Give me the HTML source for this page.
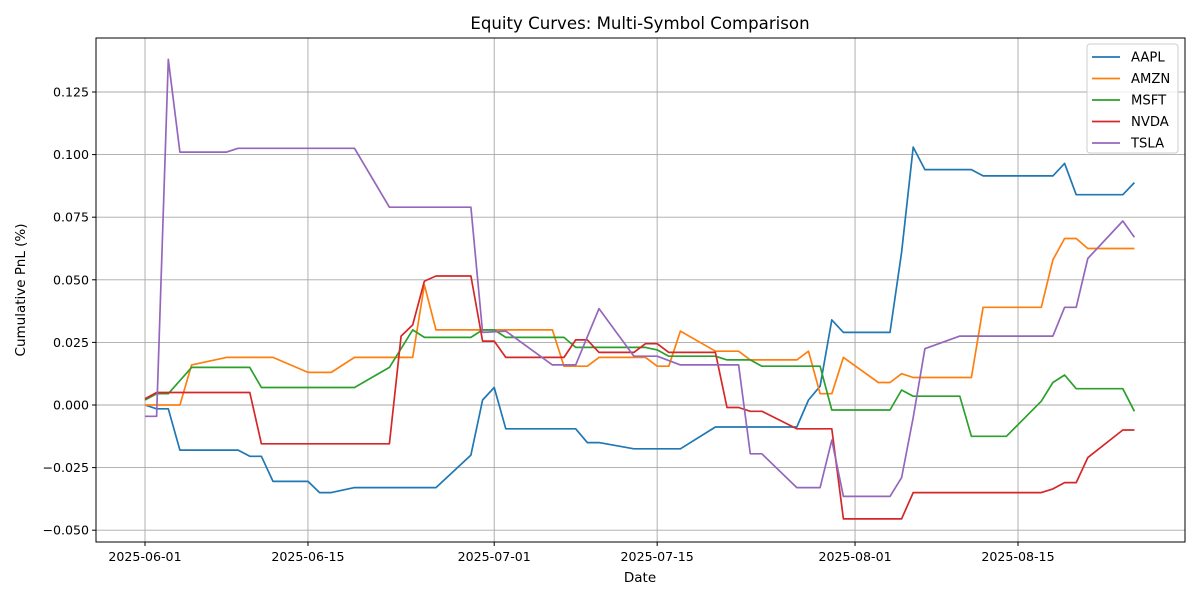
<!DOCTYPE html>
<html><head><meta charset="utf-8"><style>
body{margin:0;background:#fff;font-family:"Liberation Sans","DejaVu Sans",sans-serif;}
svg text{font-family:"DejaVu Sans","Liberation Sans",sans-serif;}
</style></head><body>
<svg id="chart" width="1200" height="600" xmlns="http://www.w3.org/2000/svg">
<rect width="1200" height="600" fill="#fff"/>
<text x="640" y="29" text-anchor="middle" font-size="16.6">Equity Curves: Multi-Symbol Comparison</text>
<g id="grid"></g><g id="lines"></g><g id="ticks"></g>
<rect x="96" y="38" width="1089" height="504" fill="none" stroke="#000" stroke-width="1"/>
<text x="640" y="582" text-anchor="middle" font-size="13.5">Date</text>
<text transform="translate(25,290) rotate(-90)" text-anchor="middle" font-size="13.5">Cumulative PnL (%)</text>
<g id="legend"></g>
</svg>
<script>
const aaplDays=[0,1,2,3,8,9,10,11,14,15,16,18,25,28,29,30,31,37,38,39,42,46,49,56,57,58,59,60,64,65,66,67,71,72,78,79,80,84,85];
const aaplVals=[0,-0.0015,-0.0015,-0.018,-0.018,-0.0205,-0.0205,-0.0305,-0.0305,-0.035,-0.035,-0.033,-0.033,-0.020,0.002,0.007,-0.0095,-0.0095,-0.015,-0.015,-0.0175,-0.0175,-0.0088,-0.0088,0.002,0.0075,0.034,0.029,0.029,0.061,0.103,0.094,0.094,0.0915,0.0915,0.0965,0.084,0.084,0.0888];
const amznDays=[0,1,3,4,7,11,14,16,18,23,24,25,29,31,35,36,38,39,43,44,45,46,49,51,52,56,57,58,59,60,63,64,65,66,71,72,77,78,79,80,81,85];
const amznVals=[0,0,0,0.016,0.019,0.019,0.013,0.013,0.019,0.019,0.048,0.030,0.030,0.030,0.030,0.0155,0.0155,0.019,0.019,0.0155,0.0155,0.0295,0.0215,0.0215,0.018,0.018,0.0215,0.0045,0.0045,0.019,0.009,0.009,0.0125,0.011,0.011,0.039,0.039,0.058,0.0665,0.0665,0.0625,0.0625];
const msftDays=[0,1,2,4,9,10,18,21,23,24,28,29,30,31,36,37,43,44,45,49,50,52,53,58,59,64,65,66,70,71,74,77,78,79,80,84,85];
const msftVals=[0.002,0.0045,0.0045,0.015,0.015,0.007,0.007,0.015,0.030,0.027,0.027,0.030,0.030,0.027,0.027,0.023,0.023,0.022,0.0195,0.0195,0.018,0.018,0.0155,0.0155,-0.002,-0.002,0.006,0.0035,0.0035,-0.0125,-0.0125,0.0015,0.009,0.012,0.0065,0.0065,-0.0025];
const nvdaDays=[0,1,9,10,21,22,23,24,25,28,29,30,31,36,37,38,39,42,43,44,45,49,50,51,52,53,56,59,60,65,66,77,78,79,80,81,84,85];
const nvdaVals=[0.0025,0.005,0.005,-0.0155,-0.0155,0.0275,0.032,0.0495,0.0515,0.0515,0.0255,0.0255,0.019,0.019,0.026,0.026,0.021,0.021,0.0245,0.0245,0.021,0.021,-0.001,-0.001,-0.0025,-0.0025,-0.0095,-0.0095,-0.0455,-0.0455,-0.035,-0.035,-0.0335,-0.031,-0.031,-0.021,-0.010,-0.010];
const tslaDays=[0,1,2,3,7,8,18,21,28,29,31,35,37,39,42,44,46,51,52,53,56,58,59,60,64,65,66,67,70,78,79,80,81,84,85];
const tslaVals=[-0.0045,-0.0045,0.138,0.101,0.101,0.1025,0.1025,0.079,0.079,0.029,0.0295,0.016,0.016,0.0385,0.0195,0.0195,0.016,0.016,-0.0195,-0.0195,-0.033,-0.033,-0.014,-0.0365,-0.0365,-0.029,-0.005,0.0225,0.0275,0.0275,0.039,0.039,0.0585,0.0735,0.067];
const seriesNames=["AAPL","AMZN","MSFT","NVDA","TSLA"];
const seriesColors=["#1f77b4","#ff7f0e","#2ca02c","#d62728","#9467bd"];
const xTickDays=[0,14,30,44,61,75];
const xTickLabels=["2025-06-01","2025-06-15","2025-07-01","2025-07-15","2025-08-01","2025-08-15"];
const yTicks=[-0.05,-0.025,0,0.025,0.05,0.075,0.1,0.125];
const yTickLabels=["−0.050","−0.025","0.000","0.025","0.050","0.075","0.100","0.125"];

const NS="http://www.w3.org/2000/svg";
const xs=d=>145+d*11.64;
const ys=v=>405-v*2504;
function mk(t,a,p){const e=document.createElementNS(NS,t);for(const k in a)e.setAttribute(k,a[k]);p.appendChild(e);return e;}
const grid=document.getElementById('grid'),ticks=document.getElementById('ticks');
xTickDays.forEach((d,i)=>{
  const x=xs(d);
  const g=mk('line',{x1:x,x2:x,y1:38,y2:542,stroke:'#a8a8a8','stroke-width':0.9},grid);
  
  
  mk('line',{x1:x,x2:x,y1:542,y2:546,stroke:'#000'},ticks);
  const t=mk('text',{x:x,y:561,'text-anchor':'middle','font-size':12.6},ticks);
  
  
  t.textContent=xTickLabels[i];
});
yTicks.forEach((v,i)=>{
  const y=ys(v);
  const g=mk('line',{x1:96,x2:1185,y1:y,y2:y,stroke:'#a8a8a8','stroke-width':0.9},grid);
  
  
  mk('line',{x1:92,x2:96,y1:y,y2:y,stroke:'#000'},ticks);
  const t=mk('text',{x:89,y:y+4.5,'text-anchor':'end','font-size':12.6},ticks);
  
  
  t.textContent=yTickLabels[i];
});
const allDays=[aaplDays,amznDays,msftDays,nvdaDays,tslaDays];
const allVals=[aaplVals,amznVals,msftVals,nvdaVals,tslaVals];
const lines=document.getElementById('lines');
allDays.forEach((ds,i)=>{
  const pts=ds.map((d,j)=>xs(d).toFixed(1)+','+ys(allVals[i][j]).toFixed(1)).join(' ');
  const p=mk('polyline',{points:pts,fill:'none',stroke:seriesColors[i],'stroke-width':1.7,'stroke-linejoin':'round'},lines);
  
  
});
const leg=document.getElementById('legend');
const box=mk('rect',{x:1087,y:44,width:91,height:109,rx:3,fill:'#fff','fill-opacity':0.8,stroke:'#ccc'},leg);


seriesNames.forEach((n,i)=>{
  const y=57+i*21.5;
  mk('line',{x1:1092,x2:1120,y1:y,y2:y,stroke:seriesColors[i],'stroke-width':1.7},leg);
  const t=mk('text',{x:1131,y:y+4.5,'font-size':13.2},leg);
  
  
  t.textContent=n;
});
</script>
</body></html>
